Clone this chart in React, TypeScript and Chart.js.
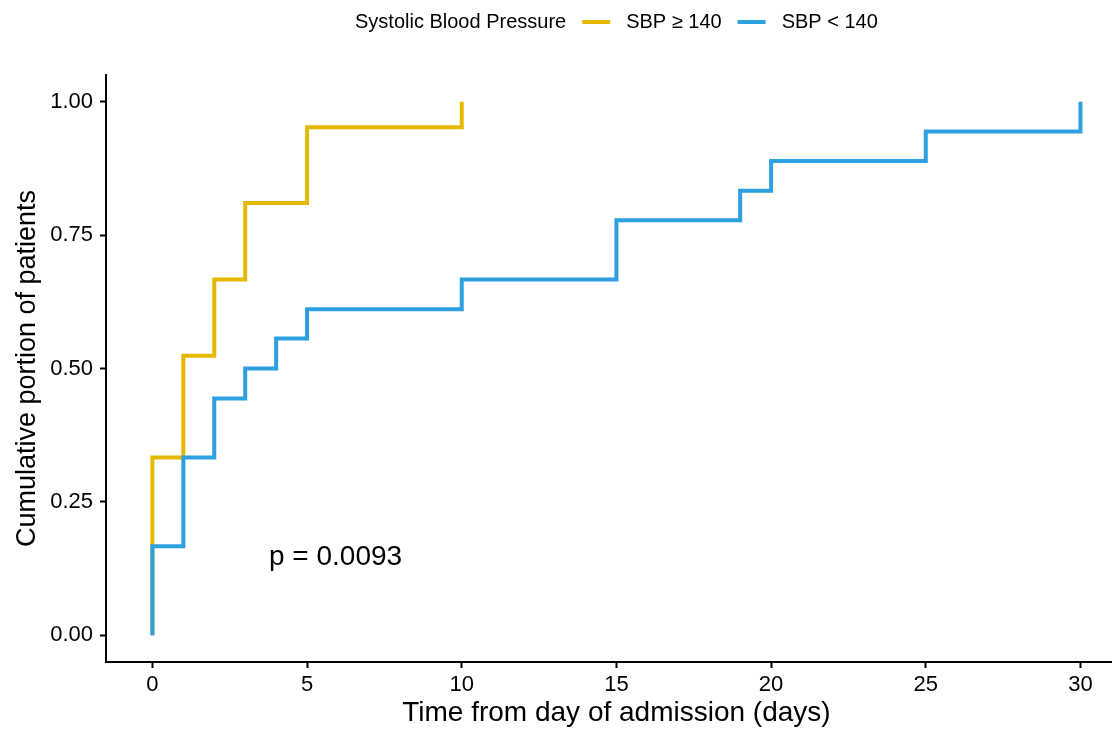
import React, { useEffect, useRef } from "react";
import { Chart, registerables } from "chart.js";

Chart.register(...registerables);

// ---- Data ----
const highTimes = [0, 0, 1, 2, 3, 5, 10];
const highCum = [0, 0.333, 0.524, 0.667, 0.81, 0.952, 1.0];
const lowTimes = [0, 0, 1, 2, 3, 4, 5, 10, 15, 19, 20, 25, 30];
const lowCum = [0, 0.167, 0.333, 0.444, 0.5, 0.556, 0.611, 0.667, 0.778, 0.833, 0.889, 0.944, 1.0];
const xTicks = [0, 5, 10, 15, 20, 25, 30];
const yTicks = [0, 0.25, 0.5, 0.75, 1.0];
const seriesLabels = ["SBP \u2265 140", "SBP < 140"];
const seriesColors = ["#E7B800", "#2E9FDF"];
const legendTitle = "Systolic Blood Pressure";
const pValueText = "p = 0.0093";
const pValuePos = { x: 5.92, y: 0.147 };
const xTitle = "Time from day of admission (days)";
const yTitle = "Cumulative portion of patients";
const panelCenterX = 15; // centre of the (expanded) ggplot panel range -1.5..31.5

const FONT = "'Liberation Sans', Arial, Helvetica, sans-serif";

const legendPlugin = {
  id: "ggLegend",
  afterDraw(chart: any) {
    const ctx = chart.ctx;
    const xs = chart.scales.x;
    const ys = chart.scales.y;
    const center = xs.getPixelForValue(panelCenterX);
    ctx.save();
    ctx.font = `20px ${FONT}`;
    ctx.textBaseline = "middle";
    ctx.textAlign = "left";
    ctx.fillStyle = "#000";
    const gap = 16;
    const dash = 28;
    const tW = ctx.measureText(legendTitle).width;
    const lW = seriesLabels.map((s) => ctx.measureText(s).width);
    let total = tW;
    lW.forEach((w) => (total += gap + dash + gap + w));
    let x = center - total / 2;
    const y = 22;
    ctx.fillText(legendTitle, x, y);
    x += tW;
    seriesLabels.forEach((s, i) => {
      x += gap;
      ctx.strokeStyle = seriesColors[i];
      ctx.lineWidth = 4;
      ctx.beginPath();
      ctx.moveTo(x, y);
      ctx.lineTo(x + dash, y);
      ctx.stroke();
      x += dash + gap;
      ctx.fillStyle = "#000";
      ctx.fillText(s, x, y);
      x += lW[i];
    });
    // x-axis title, centred on the full panel
    ctx.font = `28px ${FONT}`;
    ctx.textAlign = "center";
    ctx.fillText(xTitle, center, xs.bottom - 17);
    // p-value annotation
    ctx.fillText(pValueText, xs.getPixelForValue(pValuePos.x), ys.getPixelForValue(pValuePos.y));
    ctx.restore();
  },
};

export default function App() {
  const ref = useRef<HTMLCanvasElement | null>(null);

  useEffect(() => {
    document.body.style.margin = "0";
    const canvas = ref.current;
    if (!canvas) return;
    const chart = new Chart(canvas, {
      type: "line",
      data: {
        datasets: [
          {
            label: seriesLabels[0],
            data: highTimes.map((t, i) => ({ x: t, y: highCum[i] })),
            borderColor: seriesColors[0],
            backgroundColor: seriesColors[0],
            borderWidth: 4,
            borderJoinStyle: "miter",
            borderCapStyle: "butt",
            pointRadius: 0,
            stepped: true,
            fill: false,
            order: 1,
          },
          {
            label: seriesLabels[1],
            data: lowTimes.map((t, i) => ({ x: t, y: lowCum[i] })),
            borderColor: seriesColors[1],
            backgroundColor: seriesColors[1],
            borderWidth: 4,
            borderJoinStyle: "miter",
            borderCapStyle: "butt",
            pointRadius: 0,
            stepped: true,
            fill: false,
            order: 0,
          },
        ],
      },
      options: {
        responsive: false,
        animation: false,
        layout: { padding: { top: 75, right: 0, bottom: 0, left: 0 } },
        plugins: {
          legend: { display: false },
          tooltip: { enabled: false },
          title: { display: false },
        },
        scales: {
          x: {
            type: "linear",
            min: -1.5,
            max: 31.02,
            afterBuildTicks: (s: any) => {
              s.ticks = xTicks.map((v) => ({ value: v }));
            },
            afterFit: (s: any) => {
              s.height = 68;
            },
            grid: {
              display: true,
              drawOnChartArea: false,
              drawTicks: true,
              tickLength: 6,
              tickWidth: 2,
              tickColor: "#000",
            },
            border: { display: true, color: "#000", width: 2 },
            ticks: {
              color: "#000",
              font: { family: FONT, size: 22 },
              padding: 4,
              maxRotation: 0,
              autoSkip: false,
              callback: (v: any) => String(v),
            },
            title: { display: false, text: xTitle },
          },
          y: {
            type: "linear",
            min: -0.05,
            max: 1.05,
            afterBuildTicks: (s: any) => {
              s.ticks = yTicks.map((v) => ({ value: v }));
            },
            afterFit: (s: any) => {
              s.width = 106;
            },
            grid: {
              display: true,
              drawOnChartArea: false,
              drawTicks: true,
              tickLength: 6,
              tickWidth: 2,
              tickColor: "#000",
            },
            border: { display: true, color: "#000", width: 2 },
            ticks: {
              color: "#000",
              font: { family: FONT, size: 22 },
              padding: 7,
              autoSkip: false,
              callback: (v: any) => Number(v).toFixed(2),
            },
            title: {
              display: true,
              text: yTitle,
              color: "#000",
              font: { family: FONT, size: 27 },
              padding: { top: 11, bottom: 0 },
            },
          },
        },
      },
      plugins: [legendPlugin],
    });
    return () => chart.destroy();
  }, []);

  return (
    <div style={{ width: 1112, height: 730, overflow: "hidden" }}>
      <canvas ref={ref} width={1112} height={730} />
    </div>
  );
}
